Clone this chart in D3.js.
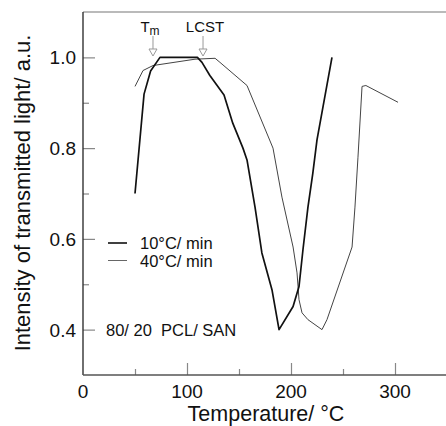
<!DOCTYPE html>
<meta charset="utf-8">
<script src="https://d3js.org/d3.v7.min.js"></script>
<style>
body { margin: 0; background: #fff; }
svg text { font-family: "Liberation Sans", Arial, sans-serif; fill: #111; }
.tick-label { font-size: 19px; }
.axis-title { font-size: 21.5px; }
.note { font-size: 16.5px; white-space: pre; }
</style>
<body>
<div id="chart"></div>
<script>
// data (temperature in °C, intensity in a.u.)
var temps10 = [50, 58.7, 65, 74, 110, 114.4, 122, 135.6, 144, 153.8, 157.7, 165.4, 172, 181.7, 188.5, 202, 207.7, 211.5, 216.3, 221, 225, 239.4];
var vals10  = [0.70, 0.919, 0.97, 1.0, 1.0, 0.989, 0.96, 0.917, 0.855, 0.80, 0.774, 0.670, 0.569, 0.488, 0.40, 0.451, 0.495, 0.576, 0.670, 0.745, 0.818, 1.0];

var temps40 = [50, 57.7, 67.3, 107.7, 127, 131.7, 157.7, 182.7, 191.3, 202, 205.8, 207.7, 210.6, 216.3, 229.8, 234.6, 258.7, 261.5, 264.4, 268.3, 272, 302.9];
var vals40  = [0.936, 0.971, 0.982, 0.996, 0.998, 0.989, 0.938, 0.80, 0.692, 0.582, 0.525, 0.466, 0.437, 0.422, 0.40, 0.422, 0.582, 0.670, 0.780, 0.936, 0.938, 0.901];

var xMajor = [100, 200, 300];
var xMinor = [50, 150, 250];
var xLabels = [0, 100, 200, 300];
var yMajor = [0.4, 0.6, 0.8, 1.0];
var yMinor = [0.5, 0.7, 0.9];

var legendLabels = ["10°C/ min", "40°C/ min"];
var markers = [{label: "T", sub: "m", t: 67.3}, {label: "LCST", sub: "", t: 115.4}];

var W = 446, H = 426;
var svg = d3.select("#chart").append("svg")
    .attr("width", W)
    .attr("height", H);

var x = d3.scaleLinear().domain([0, 350]).range([83, 447]);
var y = d3.scaleLinear().domain([0.3, 1.1]).range([375, 12]);

// frame: top line + left/bottom axes
svg.append("line")
    .attr("x1", x(0)).attr("x2", W)
    .attr("y1", y(1.1)).attr("y2", y(1.1))
    .attr("stroke", "#777").attr("stroke-width", 1.2);

function styleTicks(g, color) {
  g.select(".domain").remove();
  g.selectAll(".tick line").attr("stroke", color).attr("stroke-width", 1.2);
}

svg.append("g")
    .attr("transform", "translate(0," + y(0.3) + ")")
    .call(d3.axisBottom(x).tickValues(xMajor).tickSize(-12).tickFormat(""))
    .call(styleTicks, "#888");
svg.append("g")
    .attr("transform", "translate(0," + y(0.3) + ")")
    .call(d3.axisBottom(x).tickValues(xMinor).tickSize(-6).tickFormat(""))
    .call(styleTicks, "#888");
svg.append("g")
    .attr("transform", "translate(" + x(0) + ",0)")
    .call(d3.axisLeft(y).tickValues(yMajor).tickSize(-12).tickFormat(""))
    .call(styleTicks, "#888");
svg.append("g")
    .attr("transform", "translate(" + x(0) + ",0)")
    .call(d3.axisLeft(y).tickValues(yMinor).tickSize(-6).tickFormat(""))
    .call(styleTicks, "#888");

svg.append("line")
    .attr("x1", x(0)).attr("x2", x(0))
    .attr("y1", y(1.1)).attr("y2", y(0.3))
    .attr("stroke", "#333").attr("stroke-width", 1.4);
svg.append("line")
    .attr("x1", x(0)).attr("x2", W)
    .attr("y1", y(0.3)).attr("y2", y(0.3))
    .attr("stroke", "#555").attr("stroke-width", 1.3);

// tick labels
svg.selectAll(".xlab").data(xLabels).enter().append("text")
    .attr("class", "tick-label")
    .attr("x", function(d) { return x(d); })
    .attr("y", 398)
    .attr("text-anchor", "middle")
    .text(function(d) { return d; });

svg.selectAll(".ylab").data(yMajor).enter().append("text")
    .attr("class", "tick-label")
    .attr("x", 76)
    .attr("y", function(d) { return y(d) + 7; })
    .attr("text-anchor", "end")
    .text(function(d) { return d.toFixed(1); });

// axis titles
svg.append("text")
    .attr("class", "axis-title")
    .attr("x", 266).attr("y", 421)
    .attr("text-anchor", "middle")
    .text("Temperature/ °C");

svg.append("text")
    .attr("class", "axis-title")
    .attr("transform", "translate(30,193) rotate(-90)")
    .attr("text-anchor", "middle")
    .style("font-size", "22px")
    .text("Intensity of transmitted light/ a.u.");

// curves
var line = d3.line()
    .x(function(d) { return x(d[0]); })
    .y(function(d) { return y(d[1]); });

svg.append("path")
    .datum(d3.zip(temps40, vals40))
    .attr("fill", "none")
    .attr("stroke", "#444")
    .attr("stroke-width", 1)
    .attr("stroke-linejoin", "round")
    .attr("d", line);

svg.append("path")
    .datum(d3.zip(temps10, vals10))
    .attr("fill", "none")
    .attr("stroke", "#111")
    .attr("stroke-width", 1.7)
    .attr("stroke-linejoin", "round")
    .attr("d", line);

// Tm / LCST markers
var mk = svg.selectAll(".marker").data(markers).enter().append("g")
    .attr("transform", function(d) { return "translate(" + x(d.t) + ",0)"; });

mk.append("line")
    .attr("x1", 0).attr("x2", 0)
    .attr("y1", 36).attr("y2", 49)
    .attr("stroke", "#999").attr("stroke-width", 1);
mk.append("path")
    .attr("d", "M-4,49 L4,49 L0,56 Z")
    .attr("fill", "none")
    .attr("stroke", "#999").attr("stroke-width", 1);

var mt = mk.append("text")
    .style("font-size", "15px")
    .attr("y", 32)
    .attr("x", function(d) { return d.sub ? -3 : 2; })
    .attr("text-anchor", "middle");
mt.append("tspan").text(function(d) { return d.label; });
mt.append("tspan")
    .attr("dy", 3)
    .style("font-size", "12px")
    .text(function(d) { return d.sub; });

// legend
var legColors = ["#111", "#666"];
var legWidths = [1.6, 1];
legendLabels.forEach(function(lab, i) {
  var ly = 243 + i * 17.5;
  svg.append("line")
      .attr("x1", 108).attr("x2", 127)
      .attr("y1", ly).attr("y2", ly)
      .attr("stroke", legColors[i]).attr("stroke-width", legWidths[i]);
  svg.append("text")
      .attr("class", "note")
      .attr("x", 140).attr("y", ly + 6)
      .text(lab);
});

svg.append("text")
    .attr("class", "note")
    .attr("x", 106).attr("y", 336)
    .text("80/ 20  PCL/ SAN");
</script>
</body>
